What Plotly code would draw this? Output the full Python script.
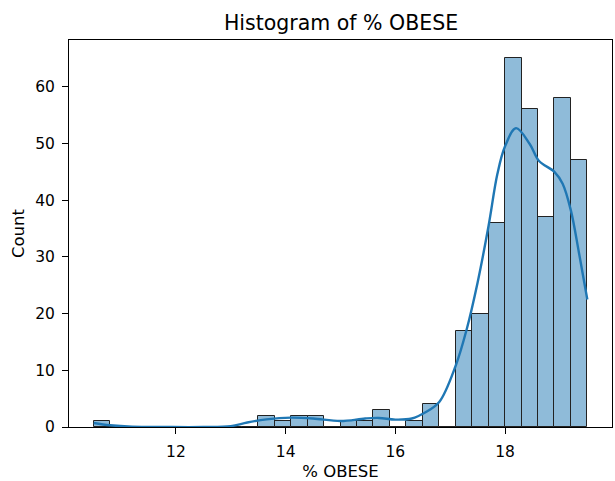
import plotly.graph_objects as go

# Histogram data: 30 bins of width 0.3 starting at 10.5
bin_start = 10.5
bin_width = 0.3
counts = [1, 0, 0, 0, 0, 0, 0, 0, 0, 0,
          2, 1, 2, 2, 0, 1, 1, 3, 0, 1,
          4, 0, 17, 20, 36, 65, 56, 37, 58, 47]

# KDE curve (scaled to counts)
kde_x = [10.5, 10.8, 11.2, 11.8, 12.5, 13.0, 13.3, 13.65, 14.1, 14.5, 15.0, 15.45,
         15.7, 16.0, 16.3, 16.55, 16.8, 17.1, 17.3, 17.5, 17.7, 17.86, 18.0, 18.2,
         18.45, 18.62, 18.9, 19.05, 19.2, 19.35, 19.5]
kde_y = [0.7, 0.3, 0.05, 0.0, 0.0, 0.15, 0.8, 1.35, 1.65, 1.5, 1.05, 1.5,
         1.6, 1.3, 1.5, 2.6, 4.4, 10.8, 17.2, 25.5, 35.5, 44.6, 49.5, 52.7,
         49.9, 46.9, 45.0, 42.9, 38.2, 30.6, 22.5]

x_ticks = [12, 14, 16, 18]
y_ticks = [0, 10, 20, 30, 40, 50, 60]

centers = [bin_start + bin_width * (i + 0.5) for i in range(len(counts))]

fig = go.Figure()
fig.add_trace(go.Bar(
    x=centers, y=counts, width=bin_width,
    marker=dict(color="rgba(31,119,180,0.5)", line=dict(color="#222222", width=1)),
    showlegend=False, hoverinfo="x+y",
))
fig.add_trace(go.Scatter(
    x=kde_x, y=kde_y, mode="lines",
    line=dict(color="#1f77b4", width=2.4, shape="spline", smoothing=1.0),
    showlegend=False,
))

font = "DejaVu Sans"
tick_size = 15.5
label_size = 16.5
fig.update_layout(
    width=615, height=481,
    margin=dict(l=69, r=2, t=40, b=52),
    paper_bgcolor="white", plot_bgcolor="white",
    bargap=0,
    font=dict(family=font, size=tick_size, color="#000000"),
    title=dict(text="Histogram of % OBESE", x=341 / 615, xanchor="center",
               y=1 - 23 / 481, yanchor="middle", font=dict(family=font, size=20.5, color="#000000")),
    xaxis=dict(
        range=[10.05, 19.95], tickvals=x_ticks, ticktext=[str(v) for v in x_ticks],
        showgrid=False, zeroline=False, showline=True, linecolor="black", linewidth=1,
        mirror=True, ticks="outside", ticklen=6, tickcolor="black", ticklabelstandoff=4,
        tickfont=dict(family=font, size=tick_size),
        title=dict(text="% OBESE", standoff=7, font=dict(family=font, size=label_size)),
    ),
    yaxis=dict(
        range=[0, 68.25], tickvals=y_ticks, ticktext=[str(v) for v in y_ticks],
        showgrid=False, zeroline=False, showline=True, linecolor="black", linewidth=1,
        mirror=True, ticks="outside", ticklen=6, tickcolor="black", ticklabelstandoff=4,
        tickfont=dict(family=font, size=tick_size),
        title=dict(text="Count", standoff=6, font=dict(family=font, size=label_size)),
    ),
)

fig.write_html("out.html")
